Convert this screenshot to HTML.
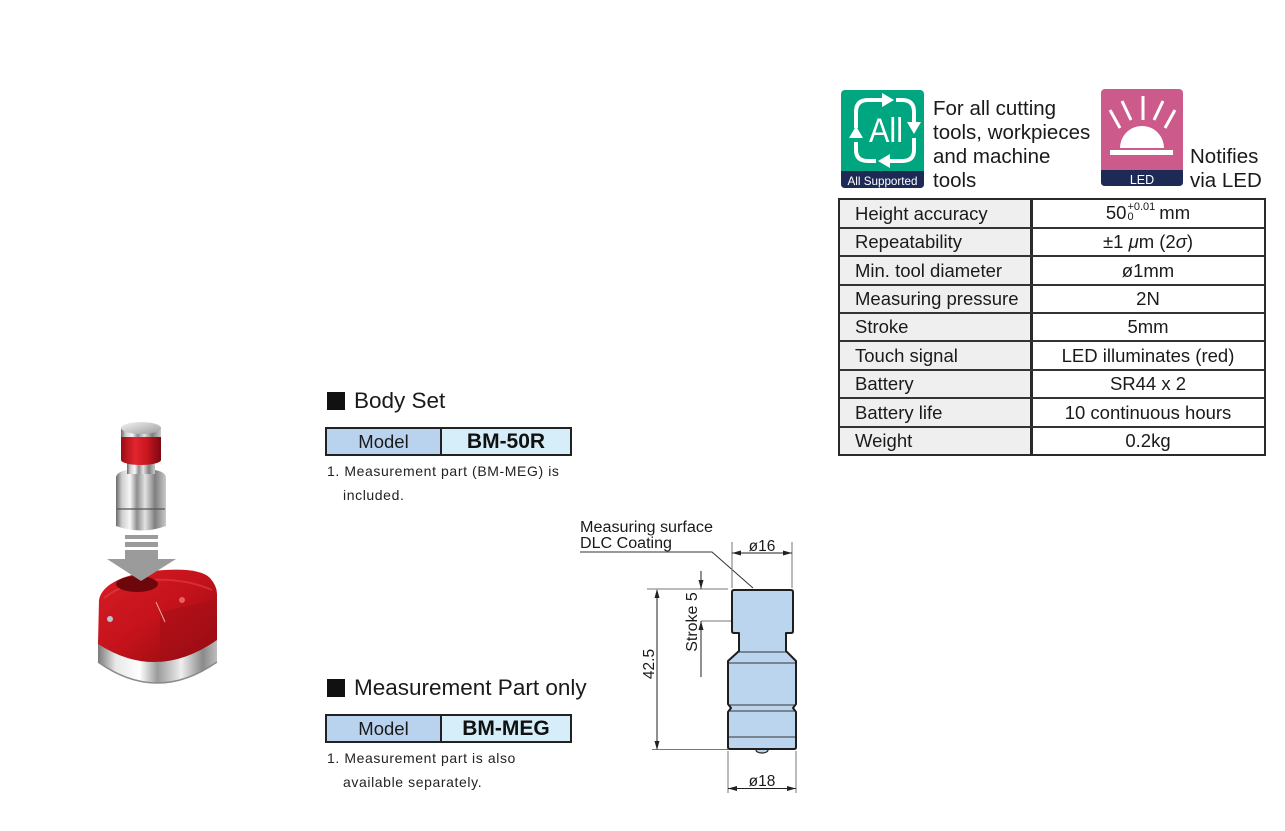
<!DOCTYPE html>
<html>
<head>
<meta charset="utf-8">
<style>
  html,body{margin:0;padding:0;background:#fff;}
  body{width:1285px;height:831px;position:relative;overflow:hidden;font-family:"Liberation Sans",Arial,sans-serif;color:#1a1a1a;}
  .abs{position:absolute;}
  .row{position:absolute;left:0;width:424px;display:flex;align-items:center;font-size:18.5px;}
  .row .k{width:189px;padding-left:15px;box-sizing:border-box;white-space:nowrap;}
  .row .v{flex:1;text-align:center;white-space:nowrap;padding-left:3px;}
  .hl{position:absolute;left:0;width:424px;height:2px;background:#333;}
  .model{position:absolute;left:325px;width:247px;height:29px;border:2px solid #222;box-sizing:border-box;display:flex;}
  .model .a{width:113px;background:#b9d3ef;border-right:2px solid #222;display:flex;align-items:center;justify-content:center;font-size:18.5px;}
  .model .b{flex:1;background:#d6edfa;display:flex;align-items:center;justify-content:center;font-size:21px;font-weight:bold;color:#111;}
  .note{position:absolute;left:327px;font-size:14px;letter-spacing:0.6px;line-height:24px;white-space:nowrap;color:#222;}
  .head{position:absolute;left:327px;font-size:22.5px;line-height:30px;white-space:nowrap;}
  .sq{display:inline-block;width:18px;height:18px;background:#111;vertical-align:-2px;margin-right:9px;}
</style>
</head>
<body>

<svg class="abs" style="left:0;top:0" width="1285" height="831" viewBox="0 0 1285 831" xmlns="http://www.w3.org/2000/svg">
  <defs>
    <linearGradient id="silver" x1="0" x2="1" y1="0" y2="0">
      <stop offset="0" stop-color="#6a6a6a"/>
      <stop offset="0.12" stop-color="#cfcfcf"/>
      <stop offset="0.28" stop-color="#f7f7f7"/>
      <stop offset="0.42" stop-color="#8e8e8e"/>
      <stop offset="0.58" stop-color="#e2e2e2"/>
      <stop offset="0.78" stop-color="#7f7f7f"/>
      <stop offset="1" stop-color="#c9c9c9"/>
    </linearGradient>
    <linearGradient id="silverB" x1="0" x2="1" y1="0" y2="0">
      <stop offset="0" stop-color="#7a7a7a"/>
      <stop offset="0.15" stop-color="#e8e8e8"/>
      <stop offset="0.35" stop-color="#ffffff"/>
      <stop offset="0.5" stop-color="#9a9a9a"/>
      <stop offset="0.7" stop-color="#eeeeee"/>
      <stop offset="0.88" stop-color="#8a8a8a"/>
      <stop offset="1" stop-color="#bdbdbd"/>
    </linearGradient>
    <linearGradient id="redg" x1="0" x2="1" y1="0" y2="0">
      <stop offset="0" stop-color="#9a0c14"/>
      <stop offset="0.35" stop-color="#e2252e"/>
      <stop offset="0.65" stop-color="#c8161f"/>
      <stop offset="1" stop-color="#7c0810"/>
    </linearGradient>
    <linearGradient id="redbody" x1="0" x2="1" y1="0" y2="1">
      <stop offset="0" stop-color="#d81d25"/>
      <stop offset="0.5" stop-color="#c4121b"/>
      <stop offset="1" stop-color="#8c0a10"/>
    </linearGradient>
    <linearGradient id="capg" x1="0" x2="1" y1="0" y2="1">
      <stop offset="0" stop-color="#f4f4f4"/>
      <stop offset="1" stop-color="#9d9d9d"/>
    </linearGradient>
  </defs>

  <!-- ===== Product photo (approximation) ===== -->
  <!-- silver base ring -->
  <path d="M98 640 L98 662 Q157 704 217 662 L217 638 Z" fill="url(#silverB)"/>
  <path d="M98 662 Q157 704 217 662" fill="none" stroke="#8a8a8a" stroke-width="1.5"/>
  <!-- red body -->
  <path d="M99 600 Q101 588 118 580 Q135 572 165 570 Q200 568 210 578 Q217 586 217 594 L217 640 Q157 682 98 644 Z" fill="url(#redbody)"/>
  <path d="M104 598 Q120 585 150 580 Q185 578 212 590" fill="none" stroke="#e04048" stroke-width="2" opacity="0.6"/>
  <path d="M160 612 L215 600 L216 640 Q185 660 160 662 Z" fill="#a30d15" opacity="0.5"/>
  <ellipse cx="137" cy="584" rx="21" ry="8" fill="#6e070c"/>
  <line x1="156" y1="602" x2="165" y2="622" stroke="#f0a0a0" stroke-width="1"/>
  <circle cx="182" cy="600" r="3" fill="#e86060"/>
  <circle cx="110" cy="619" r="3" fill="#b8c4d8"/>
  <!-- pin -->
  <path d="M116 478 Q116 472 127 470 L155 470 Q166 472 166 478 L166 526 Q141 535 116 526 Z" fill="url(#silver)"/>
  <line x1="117" y1="509" x2="165" y2="509" stroke="#555" stroke-width="1.2"/>
  <rect x="127" y="460" width="28" height="14" fill="url(#silver)"/>
  <rect x="121" y="436" width="40" height="24" fill="url(#redg)"/>
  <ellipse cx="141" cy="460" rx="20" ry="5" fill="url(#redg)"/>
  <rect x="121" y="428" width="40" height="9" fill="url(#silver)"/>
  <ellipse cx="141" cy="428" rx="20" ry="6" fill="url(#capg)"/>
  <!-- arrow -->
  <rect x="125" y="535" width="33" height="4" fill="#9b9b9b"/>
  <rect x="125" y="542" width="33" height="5" fill="#9b9b9b"/>
  <path d="M125 550 H158 V559 H176 L141 581 L107 559 H125 Z" fill="#9b9b9b"/>

  <!-- ===== Technical drawing ===== -->
  <g font-family="Liberation Sans, Arial, sans-serif" fill="#1a1a1a">
    <text x="580" y="532" font-size="15.5" textLength="133" lengthAdjust="spacingAndGlyphs">Measuring surface</text>
    <text x="580" y="548" font-size="15.5" textLength="92" lengthAdjust="spacingAndGlyphs">DLC Coating</text>
    <text x="762" y="551" font-size="15.5" text-anchor="middle">ø16</text>
    <text x="762" y="786" font-size="15.5" text-anchor="middle">ø18</text>
    <text transform="translate(654,664) rotate(-90)" font-size="15.5" text-anchor="middle">42.5</text>
    <text transform="translate(697,622) rotate(-90)" font-size="16" text-anchor="middle">Stroke 5</text>
  </g>
  <!-- leader -->
  <polyline points="580,552 712,552 753,588" fill="none" stroke="#333" stroke-width="1"/>
  <!-- extension lines -->
  <g stroke="#777" stroke-width="1" fill="none">
    <line x1="647" y1="589" x2="728" y2="589"/>
    <line x1="652" y1="749.5" x2="728" y2="749.5"/>
    <line x1="701" y1="621" x2="732" y2="621"/>
    <line x1="732" y1="542" x2="732" y2="588"/>
    <line x1="792" y1="542" x2="792" y2="588"/>
    <line x1="728" y1="751" x2="728" y2="793"/>
    <line x1="796" y1="751" x2="796" y2="793"/>
  </g>
  <!-- dimension lines -->
  <g stroke="#222" stroke-width="1" fill="none">
    <line x1="657" y1="590" x2="657" y2="749"/>
    <line x1="701" y1="571" x2="701" y2="589"/>
    <line x1="701" y1="621" x2="701" y2="677"/>
    <line x1="732" y1="553" x2="792" y2="553"/>
    <line x1="728" y1="788.5" x2="796" y2="788.5"/>
  </g>
  <g fill="#222">
    <polygon points="657,589 654.5,598 659.5,598"/>
    <polygon points="657,750 654.5,741 659.5,741"/>
    <polygon points="701,589 698.5,580 703.5,580"/>
    <polygon points="701,621 698.5,630 703.5,630"/>
    <polygon points="732,553 741,550.5 741,555.5"/>
    <polygon points="792,553 783,550.5 783,555.5"/>
    <polygon points="728,788.5 737,786 737,791"/>
    <polygon points="796,788.5 787,786 787,791"/>
  </g>
  <!-- part -->
  <ellipse cx="762" cy="750" rx="6" ry="3" fill="#bcd5ef" stroke="#222" stroke-width="1.2"/>
  <path d="M734 590 L791 590 Q793 590 793 592 L793 631 Q793 633 791 633 L786 633 L786 651 L796 661 L796 704 L793 708 L796 712 L796 747 Q796 749 794 749 L730 749 Q728 749 728 747 L728 712 L731 708 L728 704 L728 661 L739 651 L739 633 L734 633 Q732 633 732 631 L732 592 Q732 590 734 590 Z"
        fill="#bcd5ef" stroke="#1e1e1e" stroke-width="2" stroke-linejoin="round"/>
  <g stroke="#333" stroke-width="1">
    <line x1="739" y1="652" x2="786" y2="652"/>
    <line x1="729" y1="663" x2="795" y2="663"/>
    <line x1="730" y1="705" x2="794" y2="705"/>
    <line x1="730" y1="711" x2="794" y2="711"/>
    <line x1="729" y1="737" x2="795" y2="737"/>
  </g>

  <!-- ===== Icons ===== -->
  <!-- All Supported -->
  <rect x="841" y="90" width="83" height="98" rx="4" fill="#00a67f"/>
  <path d="M841 171 H924 V184 Q924 188 920 188 H845 Q841 188 841 184 Z" fill="#1c2a55"/>
  <text x="882.5" y="185" font-family="Liberation Sans, Arial, sans-serif" font-size="12" fill="#fff" text-anchor="middle" textLength="70" lengthAdjust="spacingAndGlyphs">All Supported</text>
  <g fill="none" stroke="#fff" stroke-width="4" stroke-linecap="butt">
    <path d="M856 128 L856 112 Q856 100 868 100 L884 100"/>
    <path d="M896 100 L902 100 Q914 100 914 112 L914 124"/>
    <path d="M914 138 L914 150 Q914 161 902 161 L888 161"/>
    <path d="M876 161 L868 161 Q856 161 856 150 L856 142"/>
  </g>
  <g fill="#fff">
    <polygon points="894,100 882,93 882,107"/>
    <polygon points="914,134 907,122 921,122"/>
    <polygon points="878,161 890,154 890,168"/>
    <polygon points="856,126 849,138 863,138"/>
  </g>
  <text x="886" y="142" font-family="Liberation Sans, Arial, sans-serif" font-size="34" fill="#fff" text-anchor="middle" textLength="34" lengthAdjust="spacingAndGlyphs">All</text>

  <!-- LED -->
  <rect x="1101" y="89" width="82" height="97" rx="4" fill="#cc5b8c"/>
  <path d="M1101 170 H1183 V182 Q1183 186 1179 186 H1105 Q1101 186 1101 182 Z" fill="#1c2a55"/>
  <text x="1142" y="184" font-family="Liberation Sans, Arial, sans-serif" font-size="12.5" fill="#fff" text-anchor="middle">LED</text>
  <path d="M1120 148 A22 22 0 0 1 1164 148 Z" fill="#fff"/>
  <rect x="1110" y="150" width="63" height="5" fill="#fff"/>
  <g stroke="#fff" stroke-width="3" stroke-linecap="butt">
    <line x1="1110" y1="110" x2="1120" y2="128"/>
    <line x1="1122" y1="101" x2="1131" y2="120"/>
    <line x1="1143" y1="96" x2="1143" y2="120"/>
    <line x1="1163" y1="101" x2="1154" y2="120"/>
    <line x1="1175" y1="110" x2="1165" y2="128"/>
  </g>
</svg>

<!-- icon captions -->
<div class="abs" style="left:933px;top:97px;font-size:20.5px;line-height:24px;white-space:nowrap;">For all cutting<br>tools, workpieces<br>and machine<br>tools</div>
<div class="abs" style="left:1190px;top:145px;font-size:20.5px;line-height:24px;white-space:nowrap;">Notifies<br>via LED</div>

<!-- spec table -->
<div class="abs" style="left:838px;top:198px;width:428px;height:258px;border:2px solid #2a2a2a;box-sizing:border-box;background:#fff;">
  <div class="abs" style="left:0;top:0;width:190px;height:254px;background:#efefef;"></div>
  <div class="abs" style="left:190px;top:0;width:3px;height:254px;background:#2a2a2a;"></div>
  <div class="hl" style="top:27px"></div>
  <div class="hl" style="top:55px"></div>
  <div class="hl" style="top:84px"></div>
  <div class="hl" style="top:112px"></div>
  <div class="hl" style="top:140px"></div>
  <div class="hl" style="top:169px"></div>
  <div class="hl" style="top:197px"></div>
  <div class="hl" style="top:226px"></div>

  <div class="row" style="top:0;height:27px"><div class="k">Height accuracy</div><div class="v">50<span style="display:inline-block;vertical-align:middle;font-size:11px;line-height:10px;text-align:left;margin:0 4px 0 1px;position:relative;top:-3px;">+0.01<br>0</span>mm</div></div>
  <div class="row" style="top:29px;height:26px"><div class="k">Repeatability</div><div class="v">±1 <i>μ</i>m (2<i>σ</i>)</div></div>
  <div class="row" style="top:57px;height:27px"><div class="k">Min. tool diameter</div><div class="v">ø1mm</div></div>
  <div class="row" style="top:86px;height:26px"><div class="k">Measuring pressure</div><div class="v">2N</div></div>
  <div class="row" style="top:114px;height:26px"><div class="k">Stroke</div><div class="v">5mm</div></div>
  <div class="row" style="top:142px;height:27px"><div class="k">Touch signal</div><div class="v">LED illuminates (red)</div></div>
  <div class="row" style="top:171px;height:26px"><div class="k">Battery</div><div class="v">SR44 x 2</div></div>
  <div class="row" style="top:199px;height:27px"><div class="k">Battery life</div><div class="v">10 continuous hours</div></div>
  <div class="row" style="top:228px;height:26px"><div class="k">Weight</div><div class="v">0.2kg</div></div>
</div>

<!-- Body Set -->
<div class="head" style="top:386px;"><span class="sq"></span>Body Set</div>
<div class="model" style="top:427px;"><div class="a">Model</div><div class="b">BM-50R</div></div>
<div class="note" style="top:459px;">1. Measurement part (BM-MEG) is<br><span style="padding-left:16px">included.</span></div>

<!-- Measurement Part only -->
<div class="head" style="top:673px;"><span class="sq"></span>Measurement Part only</div>
<div class="model" style="top:714px;"><div class="a">Model</div><div class="b">BM-MEG</div></div>
<div class="note" style="top:746px;">1. Measurement part is also<br><span style="padding-left:16px">available separately.</span></div>

</body>
</html>
